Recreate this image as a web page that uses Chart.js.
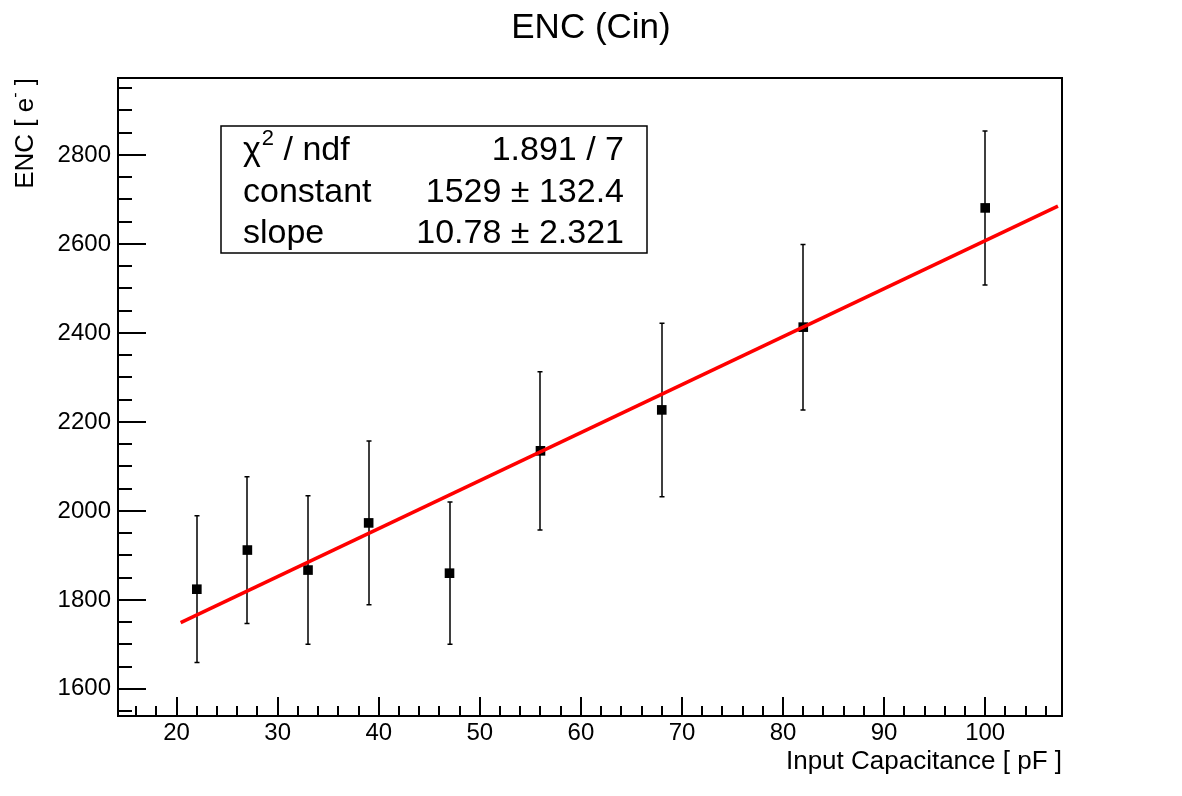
<!DOCTYPE html>
<html>
<head>
<meta charset="utf-8">
<script src="https://cdn.jsdelivr.net/npm/chart.js@4/dist/chart.umd.min.js"></script>
<style>
  html, body { margin: 0; padding: 0; background: #fff; }
  canvas { display: block; }
</style>
</head>
<body>
<canvas id="myChart" width="1182" height="796"></canvas>
<script>
// data
var capacitance = [22, 27, 33, 39, 47, 56, 68, 82, 100];
var enc = [1824, 1912, 1867, 1973, 1860, 2135, 2227, 2413, 2681];
var encErr = [165, 165, 167, 184, 160, 178, 195, 186, 173];
var fitX = [20.4, 107.2];
var fitY = [1749, 2685];
var xTicks = [20, 30, 40, 50, 60, 70, 80, 90, 100];
var yTicks = [1600, 1800, 2000, 2200, 2400, 2600, 2800];
var statsRows = [
  ["χ", "2", " / ndf", "1.891 / 7"],
  ["constant", "", "", "1529 ± 132.4"],
  ["slope", "", "", "10.78 ± 2.321"]
];

var FONT = "'Liberation Sans', Arial, Helvetica, sans-serif";

var rootPlugin = {
  id: 'rootStyle',
  beforeDatasetsDraw: function(chart) {
    var ctx = chart.ctx, xs = chart.scales.x, ys = chart.scales.y;
    ctx.save();
    ctx.strokeStyle = '#000';
    ctx.lineWidth = 1.5;
    for (var i = 0; i < capacitance.length; i++) {
      var px = Math.round(xs.getPixelForValue(capacitance[i]));
      var top = ys.getPixelForValue(enc[i] + encErr[i]);
      var bot = ys.getPixelForValue(enc[i] - encErr[i]);
      ctx.beginPath();
      ctx.moveTo(px, top); ctx.lineTo(px, bot);
      ctx.moveTo(px - 2.5, top); ctx.lineTo(px + 2.5, top);
      ctx.moveTo(px - 2.5, bot); ctx.lineTo(px + 2.5, bot);
      ctx.stroke();
    }
    ctx.restore();
  },
  afterDraw: function(chart) {
    var ctx = chart.ctx, xs = chart.scales.x, ys = chart.scales.y, a = chart.chartArea;
    ctx.save();
    // frame
    ctx.strokeStyle = '#000';
    ctx.lineWidth = 2;
    ctx.strokeRect(a.left, a.top, a.right - a.left, a.bottom - a.top);
    // ticks, inside the frame
    ctx.lineWidth = 2;
    ctx.beginPath();
    for (var v = 16; v <= xs.max; v += 2) {
      var px = Math.round(xs.getPixelForValue(v));
      var len = (v % 10 === 0) ? 19 : 10;
      ctx.moveTo(px, a.bottom); ctx.lineTo(px, a.bottom - len);
    }
    for (var w = 1550; w <= ys.max; w += 50) {
      var py = Math.round(ys.getPixelForValue(w));
      var l = (w % 200 === 0) ? 28 : 14;
      ctx.moveTo(a.left, py); ctx.lineTo(a.left + l, py);
    }
    ctx.stroke();

    // title
    ctx.fillStyle = '#000';
    ctx.font = '35px ' + FONT;
    ctx.textAlign = 'center';
    ctx.textBaseline = 'alphabetic';
    ctx.fillText('ENC (Cin)', 591, 38);

    // axis titles
    ctx.font = '26px ' + FONT;
    ctx.textAlign = 'right';
    ctx.fillText('Input Capacitance [ pF ]', a.right, 769);

    ctx.save();
    ctx.translate(33, a.top);
    ctx.rotate(-Math.PI / 2);
    ctx.textAlign = 'right';
    ctx.font = '26px ' + FONT;
    ctx.fillText(' ]', 0, 0);
    var endW = ctx.measureText(' ]').width;
    ctx.font = '16px ' + FONT;
    ctx.fillText('-', -endW, -13);
    var supW = ctx.measureText('-').width;
    ctx.font = '26px ' + FONT;
    ctx.fillText('ENC [ e', -endW - supW, 0);
    ctx.restore();

    // stats box
    var bx = 221, by = 126, bw = 426, bh = 127;
    ctx.fillStyle = '#fff';
    ctx.fillRect(bx, by, bw, bh);
    ctx.lineWidth = 1.5;
    ctx.strokeRect(bx, by, bw, bh);
    ctx.fillStyle = '#000';
    var rowY = [160, 202, 243];
    for (var r = 0; r < statsRows.length; r++) {
      var row = statsRows[r];
      ctx.font = '34px ' + FONT;
      ctx.textAlign = 'left';
      var tx = 243;
      ctx.fillText(row[0], tx, rowY[r]);
      tx += ctx.measureText(row[0]).width;
      if (row[1]) {
        ctx.font = '22px ' + FONT;
        ctx.fillText(row[1], tx + 1, rowY[r] - 15);
        tx += ctx.measureText(row[1]).width + 1;
        ctx.font = '34px ' + FONT;
      }
      if (row[2]) ctx.fillText(row[2], tx, rowY[r]);
      ctx.textAlign = 'right';
      ctx.fillText(row[3], 624, rowY[r]);
    }
    ctx.restore();
  }
};

new Chart(document.getElementById("myChart"), {
  type: 'scatter',
  data: {
    datasets: [{
      label: 'fit',
      type: 'line',
      data: fitX.map(function(x, i) { return { x: x, y: fitY[i] }; }),
      borderColor: '#ff0000',
      borderWidth: 3.5,
      pointRadius: 0,
      fill: false,
      order: 0
    }, {
      label: 'ENC',
      data: capacitance.map(function(x, i) { return { x: x, y: enc[i] }; }),
      pointStyle: 'rect',
      pointRadius: 6.8,
      pointHoverRadius: 6.8,
      backgroundColor: '#000',
      borderColor: '#000',
      borderWidth: 0,
      order: 1
    }]
  },
  options: {
    responsive: false,
    animation: false,
    events: [],
    layout: { padding: { left: 0, top: 78, right: 120, bottom: 0 } },
    plugins: {
      legend: { display: false },
      title: { display: false },
      tooltip: { enabled: false }
    },
    scales: {
      x: {
        type: 'linear',
        min: 14.2,
        max: 107.6,
        grid: { display: false, drawTicks: false },
        border: { display: false },
        afterBuildTicks: function(s) { s.ticks = xTicks.map(function(v) { return { value: v }; }); },
        afterFit: function(s) { s.height = 80; },
        ticks: { color: '#000', font: { family: FONT, size: 24 }, padding: 3, maxRotation: 0,
                 callback: function(v) { return String(v); } }
      },
      y: {
        type: 'linear',
        min: 1539,
        max: 2973,
        grid: { display: false, drawTicks: false },
        border: { display: false },
        afterBuildTicks: function(s) { s.ticks = yTicks.map(function(v) { return { value: v }; }); },
        afterFit: function(s) { s.width = 118; },
        ticks: { color: '#000', font: { family: FONT, size: 24 }, padding: 7,
                 callback: function(v) { return String(v); } }
      }
    }
  },
  plugins: [rootPlugin]
});
</script>
</body>
</html>
